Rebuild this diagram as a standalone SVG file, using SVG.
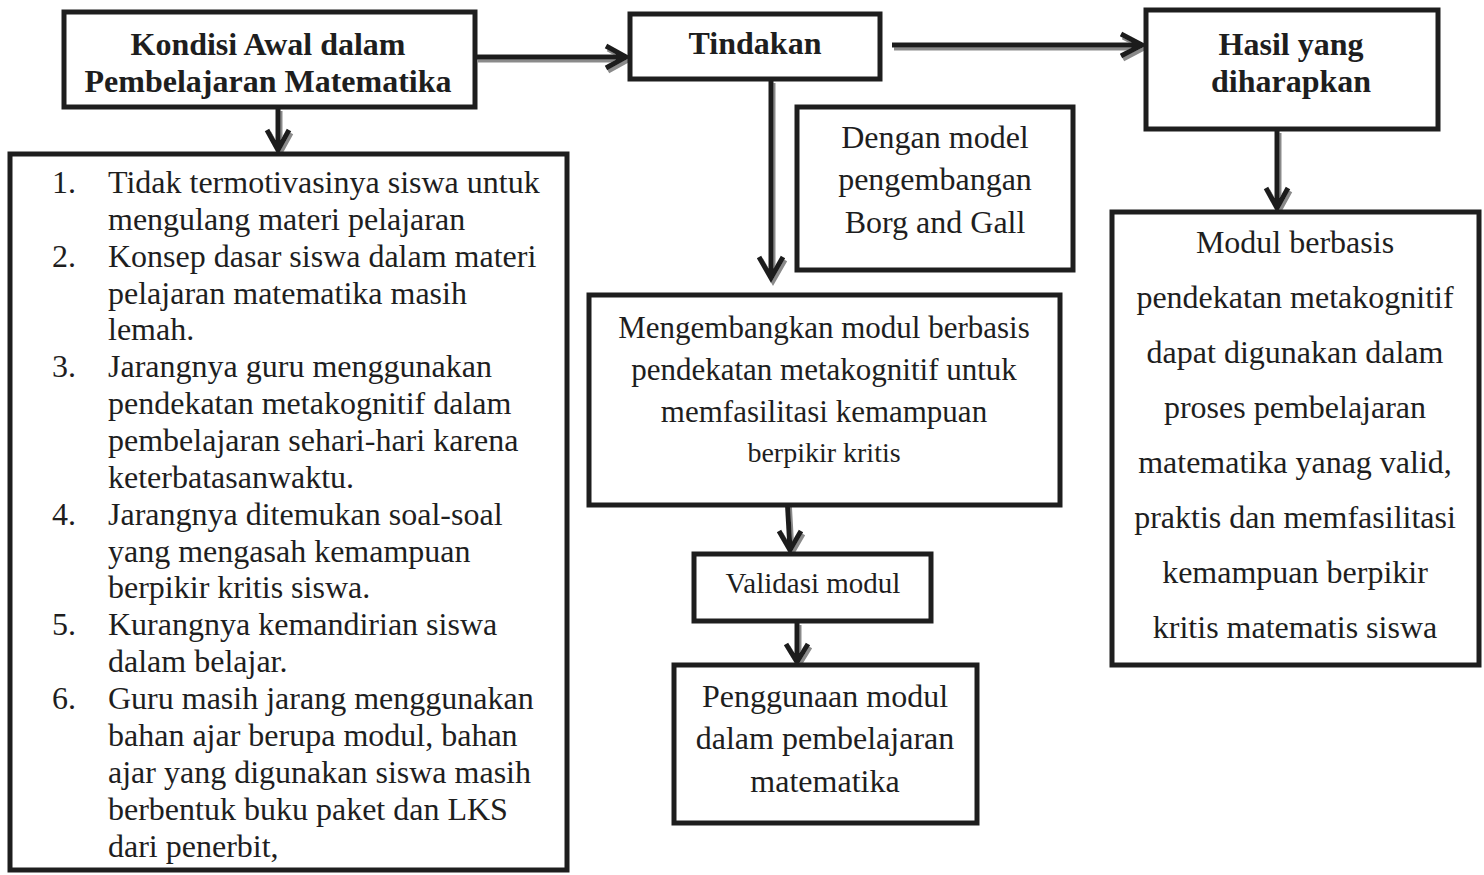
<svg xmlns="http://www.w3.org/2000/svg" width="1484" height="875" viewBox="0 0 1484 875">
<style>
.box{fill:#fff;stroke:#1e1e1e;stroke-width:5}
.t{font-family:"Liberation Serif","Times New Roman",serif;font-size:32px;fill:#1e1e1e}
.b{font-weight:bold;font-size:32px}
.c{text-anchor:middle}
.con{fill:none;stroke:#1e1e1e;stroke-width:5;stroke-linejoin:miter}
</style>
<defs>
<filter id="sh" x="-20%" y="-20%" width="140%" height="140%">
<feDropShadow dx="2" dy="3" stdDeviation="0.6" flood-color="#8a8a8a" flood-opacity="1"/>
</filter>
</defs>
<rect width="1484" height="875" fill="#fff"/>
<g id="connectors" class="con" filter="url(#sh)">
<path d="M278,108 V149 M267,130 L278,150 L289,130"/>
<path d="M476,57 H625 M606,46 L626,57 L606,68"/>
<path d="M892,45 H1141 M1121,34 L1142,45 L1121,56"/>
<path d="M771,80 V277 M759,257 L771,278 L783,257"/>
<path d="M787,496 L790,549 M779,531 L790,550 L801,531"/>
<path d="M797,622 V661 M786,644 L797,662 L808,644"/>
<path d="M1277,130 V207 M1266,188 L1277,208 L1288,188"/>
</g>
<g id="kondisi">
<rect class="box" x="64" y="12" width="411" height="95"/>
<text class="t b c" x="268" y="55">Kondisi Awal dalam</text>
<text class="t b c" x="268" y="92">Pembelajaran Matematika</text>
</g>
<g id="tindakan">
<rect class="box" x="630" y="14" width="250" height="65"/>
<text class="t b c" x="755" y="54">Tindakan</text>
</g>
<g id="hasil">
<rect class="box" x="1146" y="10" width="292" height="119"/>
<text class="t b c" x="1291" y="55">Hasil yang</text>
<text class="t b c" x="1291" y="92">diharapkan</text>
</g>
<g id="kondisi-list">
<rect class="box" x="10" y="154" width="557" height="716"/>
<g class="t">
<text x="52" y="193">1.</text><text x="108" y="193">Tidak termotivasinya siswa untuk</text>
<text x="108" y="230">mengulang materi pelajaran</text>
<text x="52" y="267">2.</text><text x="108" y="267">Konsep dasar siswa dalam materi</text>
<text x="108" y="304">pelajaran matematika masih</text>
<text x="108" y="340">lemah.</text>
<text x="52" y="377">3.</text><text x="108" y="377">Jarangnya guru menggunakan</text>
<text x="108" y="414">pendekatan metakognitif dalam</text>
<text x="108" y="451">pembelajaran sehari-hari karena</text>
<text x="108" y="488">keterbatasanwaktu.</text>
<text x="52" y="525">4.</text><text x="108" y="525">Jarangnya ditemukan soal-soal</text>
<text x="108" y="562">yang mengasah kemampuan</text>
<text x="108" y="598">berpikir kritis siswa.</text>
<text x="52" y="635">5.</text><text x="108" y="635">Kurangnya kemandirian siswa</text>
<text x="108" y="672">dalam belajar.</text>
<text x="52" y="709">6.</text><text x="108" y="709">Guru masih jarang menggunakan</text>
<text x="108" y="746">bahan ajar berupa modul, bahan</text>
<text x="108" y="783">ajar yang digunakan siswa masih</text>
<text x="108" y="820">berbentuk buku paket dan LKS</text>
<text x="108" y="857">dari penerbit,</text>
</g>
</g>
<g id="borg-gall">
<rect class="box" x="797" y="107" width="276" height="163"/>
<text class="t c" x="935" y="148">Dengan model</text>
<text class="t c" x="935" y="190">pengembangan</text>
<text class="t c" x="935" y="233">Borg and Gall</text>
</g>
<g id="mengembangkan">
<rect class="box" x="589" y="295" width="471" height="210"/>
<text class="t c" x="824" y="338" style="font-size:31px">Mengembangkan modul berbasis</text>
<text class="t c" x="824" y="380" style="font-size:31px">pendekatan metakognitif untuk</text>
<text class="t c" x="824" y="422" style="font-size:31px">memfasilitasi kemampuan</text>
<text class="t c" x="824" y="462" style="font-size:28px">berpikir kritis</text>
</g>
<g id="validasi">
<rect class="box" x="694" y="554" width="237" height="67"/>
<text class="t c" x="813" y="593" style="font-size:29px">Validasi modul</text>
</g>
<g id="penggunaan">
<rect class="box" x="674" y="665" width="303" height="158"/>
<text class="t c" x="825" y="707">Penggunaan modul</text>
<text class="t c" x="825" y="749">dalam pembelajaran</text>
<text class="t c" x="825" y="792">matematika</text>
</g>
<g id="modul">
<rect class="box" x="1112" y="212" width="367" height="453"/>
<text class="t c" x="1295" y="253">Modul berbasis</text>
<text class="t c" x="1295" y="308">pendekatan metakognitif</text>
<text class="t c" x="1295" y="363">dapat digunakan dalam</text>
<text class="t c" x="1295" y="418">proses pembelajaran</text>
<text class="t c" x="1295" y="473">matematika yanag valid,</text>
<text class="t c" x="1295" y="528">praktis dan memfasilitasi</text>
<text class="t c" x="1295" y="583">kemampuan berpikir</text>
<text class="t c" x="1295" y="638">kritis matematis siswa</text>
</g>
</svg>
